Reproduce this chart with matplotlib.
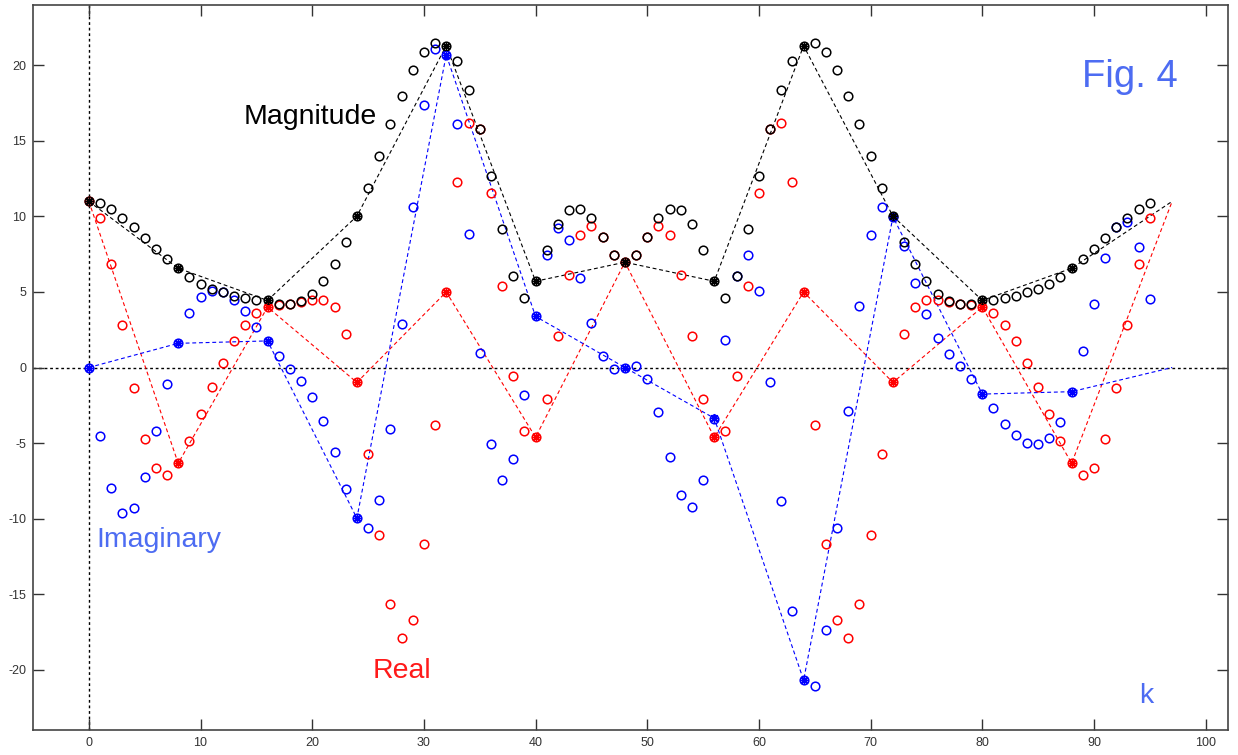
import matplotlib
matplotlib.use("Agg")
import matplotlib.pyplot as plt
import numpy as np

# ---- data ----
k = list(range(96))

magnitude = [11.0, 10.86, 10.5, 9.93, 9.3, 8.6, 7.87, 7.19, 6.57, 5.98, 5.56, 5.21,
             4.97, 4.75, 4.62, 4.5, 4.44, 4.22, 4.2, 4.42, 4.86, 5.71, 6.84, 8.33,
             10.02, 11.9, 14.0, 16.1, 18.0, 19.7, 20.9, 21.5, 21.3, 20.3, 18.4, 15.8,
             12.66, 9.16, 6.07, 4.57, 5.71, 7.78, 9.47, 10.46, 10.5, 9.87, 8.66, 7.47,
             6.97, 7.47, 8.66, 9.87, 10.5, 10.46, 9.47, 7.78, 5.71, 4.57, 6.07, 9.16,
             12.66, 15.8, 18.4, 20.3, 21.3, 21.5, 20.9, 19.7, 18.0, 16.1, 14.0, 11.9,
             10.02, 8.33, 6.84, 5.71, 4.86, 4.42, 4.2, 4.22, 4.44, 4.5, 4.62, 4.75,
             4.97, 5.21, 5.56, 5.98, 6.57, 7.19, 7.87, 8.6, 9.3, 9.93, 10.5, 10.86]

real = [11.0, 9.87, 6.88, 2.81, -1.39, -4.72, -6.64, -7.13, -6.34, -4.86, -3.09, -1.26,
        0.32, 1.74, 2.81, 3.58, 4.0, 4.15, 4.2, 4.35, 4.5, 4.5, 4.0, 2.24,
        -0.99, -5.75, -11.08, -15.64, -17.92, -16.73, -11.66, -3.83, 5.0, 12.29, 16.18, 15.82,
        11.56, 5.41, -0.53, -4.2, -4.62, -2.1, 2.09, 6.11, 8.75, 9.36, 8.63, 7.47,
        6.97, 7.47, 8.63, 9.36, 8.75, 6.11, 2.09, -2.1, -4.62, -4.2, -0.53, 5.41,
        11.56, 15.82, 16.18, 12.29, 5.0, -3.83, -11.66, -16.73, -17.92, -15.64, -11.08, -5.75,
        -0.99, 2.24, 4.0, 4.5, 4.5, 4.35, 4.2, 4.15, 4.0, 3.58, 2.81, 1.74,
        0.32, -1.26, -3.09, -4.86, -6.34, -7.13, -6.64, -4.72, -1.39, 2.81, 6.88, 9.87]

imag = [0.0, -4.54, -8.0, -9.65, -9.29, -7.23, -4.23, -1.11, 1.6, 3.58, 4.66, 5.08,
        5.0, 4.5, 3.71, 2.70, 1.76, 0.75, -0.11, -0.88, -1.97, -3.54, -5.62, -8.03,
        -9.98, -10.6, -8.74, -4.09, 2.88, 10.64, 17.36, 21.1, 20.7, 16.1, 8.81, 0.97,
        -5.04, -7.45, -6.08, -1.84, 3.38, 7.45, 9.23, 8.46, 5.91, 2.95, 0.75, -0.11,
        0.0, 0.11, -0.75, -2.95, -5.91, -8.46, -9.23, -7.45, -3.38, 1.84, 6.08, 7.45,
        5.04, -0.97, -8.81, -16.1, -20.7, -21.1, -17.36, -10.64, -2.88, 4.09, 8.74, 10.6,
        9.98, 8.03, 5.62, 3.54, 1.97, 0.88, 0.11, -0.75, -1.76, -2.70, -3.71, -4.5,
        -5.0, -5.08, -4.66, -3.58, -1.6, 1.11, 4.23, 7.23, 9.29, 9.65, 8.0, 4.54]

# coarse (starred) samples and the dashed curves through them
line_k = [0, 8, 16, 24, 32, 40, 48, 56, 64, 72, 80, 88, 97]
line_mag = [11.0, 6.57, 4.44, 10.02, 21.3, 5.71, 6.97, 5.71, 21.3, 10.02, 4.44, 6.57, 11.0]
line_re = [11.0, -6.34, 4.0, -0.99, 5.0, -4.62, 6.97, -4.62, 5.0, -0.99, 4.0, -6.34, 11.0]
line_im = [0.0, 1.6, 1.76, -9.98, 20.7, 3.38, 0.0, -3.36, -20.7, 9.98, -1.76, -1.6, 0.0]

x_ticks = [0, 10, 20, 30, 40, 50, 60, 70, 80, 90, 100]
y_ticks = [-20, -15, -10, -5, 0, 5, 10, 15, 20]

# ---- figure ----
plt.rcParams['font.family'] = ['Liberation Sans', 'DejaVu Sans']
plt.rcParams['axes.unicode_minus'] = False
fig = plt.figure(figsize=(12.38, 7.55), dpi=100)
ax = fig.add_axes([33 / 1238, 25 / 755, 1195 / 1238, 725 / 755])

ax.set_xlim(-5, 102)
ax.set_ylim(-24, 24)

# zero reference lines
ax.axhline(0, color='black', lw=1.0, ls=(0, (2, 2)), zorder=1)
ax.axvline(0, color='black', lw=1.0, ls=(0, (2, 2)), zorder=1)

dash = (0, (3.5, 2.5))
ax.plot(line_k, line_re, color='red', lw=0.8, ls=dash, zorder=2)
ax.plot(line_k, line_im, color='blue', lw=0.8, ls=dash, zorder=2)
ax.plot(line_k, line_mag, color='black', lw=0.8, ls=dash, zorder=2)

mk = dict(ls='none', marker='o', markersize=6.2, markerfacecolor='none', markeredgewidth=1.1)
ax.plot(k, real, color='red', zorder=3, **mk)
ax.plot(k, imag, color='blue', zorder=4, **mk)
ax.plot(k, magnitude, color='black', zorder=5, **mk)

st = dict(ls='none', marker=(8, 2, 0), markersize=6.5, markeredgewidth=1.0)
ax.plot(line_k[:-1], line_re[:-1], color='red', zorder=6, **st)
ax.plot(line_k[:-1], line_im[:-1], color='blue', zorder=6, **st)
ax.plot(line_k[:-1], line_mag[:-1], color='black', zorder=7, **st)

# annotations
txt_blue = '#4d6cf2'
ax.text(13.9, 16.1, 'Magnitude', color='black', fontsize=20.5, ha='left', va='baseline')
ax.text(88.9, 18.6, 'Fig. 4', color=txt_blue, fontsize=27.5, ha='left', va='baseline')
ax.text(0.65, -11.9, 'Imaginary', color=txt_blue, fontsize=20.5, ha='left', va='baseline')
ax.text(25.4, -20.58, 'Real', color='#ff1a1a', fontsize=20.5, ha='left', va='baseline')
ax.text(94.0, -22.24, 'k', color=txt_blue, fontsize=20.5, ha='left', va='baseline')

ax.set_xticks(x_ticks)
ax.set_yticks(y_ticks)
ax.tick_params(direction='in', length=8, width=1, colors='#333333', labelsize=9,
               top=True, right=True, pad=5)
for s in ax.spines.values():
    s.set_color('#444444')
    s.set_linewidth(1.2)

fig.savefig('out.png', dpi=100)
